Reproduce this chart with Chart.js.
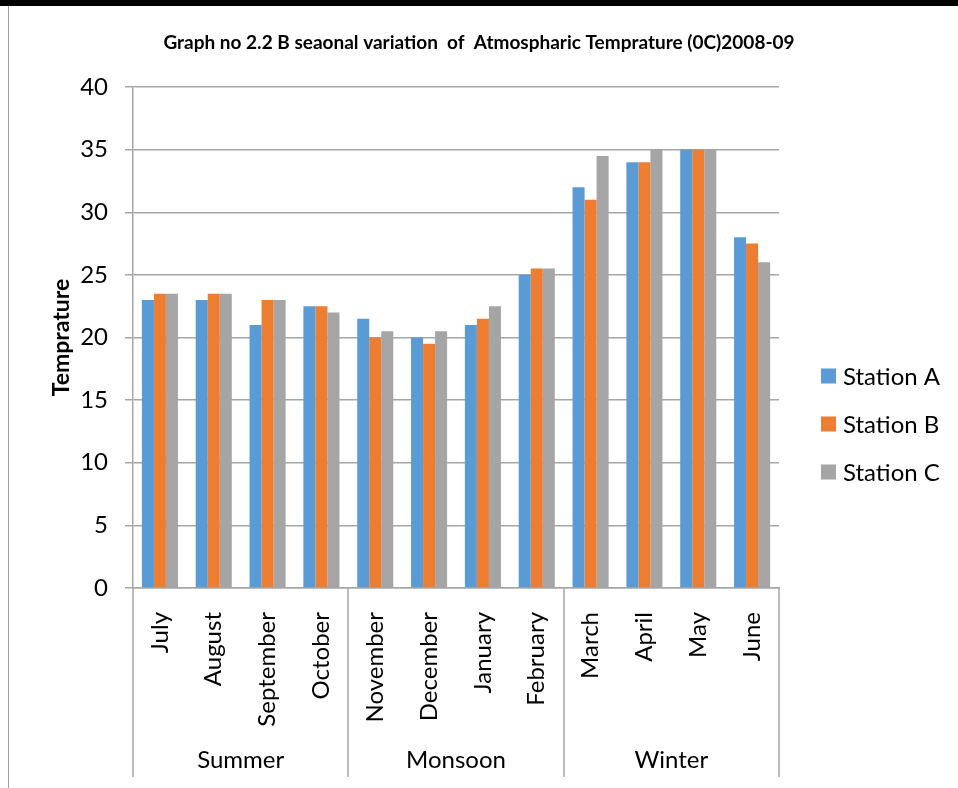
<!DOCTYPE html>
<html>
<head>
<meta charset="utf-8">
<script src="https://cdn.jsdelivr.net/npm/chart.js@4.4.1/dist/chart.umd.min.js"></script>
<style>
  html, body { margin: 0; padding: 0; background: #ffffff; }
  #wrap { width: 958px; height: 788px; position: relative; }
  canvas { display: block; }
</style>
</head>
<body>
<div id="wrap"><canvas id="chart" width="958" height="788"></canvas></div>
<script>
// ---- data ----
const months = ['July', 'August', 'September', 'October', 'November', 'December',
                'January', 'February', 'March', 'April', 'May', 'June'];
const seasons = ['Summer', 'Monsoon', 'Winter'];
const seasonSpans = [4, 4, 4];
const stationA = [23, 23, 21, 22.5, 21.5, 20, 21, 25, 32, 34, 35, 28];
const stationB = [23.5, 23.5, 23, 22.5, 20, 19.5, 21.5, 25.5, 31, 34, 35, 27.5];
const stationC = [23.5, 23.5, 23, 22, 20.5, 20.5, 22.5, 25.5, 34.5, 35, 35, 26];
const seriesNames = ['Station A', 'Station B', 'Station C'];
const seriesColors = ['#5B9BD5', '#ED7D31', '#A5A5A5'];
const yMin = 0, yMax = 40, yStep = 5;
const titleText = 'Graph no 2.2 B seaonal variation  of  Atmospharic Temprature (0C)2008-09';
const yTitle = 'Temprature';

const FONT = 'Lato, "Open Sans", sans-serif';
const GRID = '#A6A6A6';

const framePlugin = {
  id: 'frame',
  beforeDraw(chart) {
    const ctx = chart.ctx;
    ctx.save();
    ctx.fillStyle = '#ffffff';
    ctx.fillRect(0, 0, chart.width, chart.height);
    ctx.fillStyle = '#000000';
    ctx.fillRect(0, 0, chart.width, 6);
    ctx.strokeStyle = '#A0A0A0';
    ctx.lineWidth = 1;
    ctx.beginPath();
    ctx.moveTo(8.5, 6);
    ctx.lineTo(8.5, chart.height);
    ctx.stroke();
    ctx.restore();
  }
};

const groupPlugin = {
  id: 'groups',
  afterDraw(chart) {
    const x = chart.scales.x;
    const area = chart.chartArea;
    const ctx = chart.ctx;
    const half = (x.getPixelForTick(1) - x.getPixelForTick(0)) / 2;
    ctx.save();
    ctx.strokeStyle = GRID;
    ctx.lineWidth = 1.5;
    ctx.fillStyle = '#000000';
    ctx.font = '24px ' + FONT;
    ctx.textAlign = 'center';
    ctx.textBaseline = 'middle';
    let idx = 0;
    const bottom = 777;
    const edges = [];
    seasons.forEach((name, i) => {
      const start = x.getPixelForTick(idx) - half;
      const end = x.getPixelForTick(idx + seasonSpans[i] - 1) + half;
      edges.push(start, end);
      ctx.fillText(name, (start + end) / 2, 760);
      idx += seasonSpans[i];
    });
    const uniq = [...new Set(edges.map(v => Math.round(v)))];
    uniq.forEach(px => {
      ctx.beginPath();
      ctx.moveTo(px, area.bottom);
      ctx.lineTo(px, bottom);
      ctx.stroke();
    });
    ctx.restore();
  }
};

const legendPlugin = {
  id: 'customLegend',
  afterDraw(chart) {
    const ctx = chart.ctx;
    const area = chart.chartArea;
    const x0 = area.right + 42;
    const yc = 424;
    const gap = 48;
    ctx.save();
    ctx.font = '24px ' + FONT;
    ctx.textBaseline = 'middle';
    ctx.textAlign = 'left';
    chart.data.datasets.forEach((ds, i) => {
      const y = yc + (i - 1) * gap;
      ctx.fillStyle = ds.backgroundColor;
      ctx.fillRect(x0, y - 7.5, 15, 15);
      ctx.fillStyle = '#000000';
      ctx.fillText(ds.label, x0 + 22, y + 1);
    });
    ctx.restore();
  }
};

const datasets = [stationA, stationB, stationC].map((vals, i) => ({
  label: seriesNames[i],
  data: vals,
  backgroundColor: seriesColors[i],
  borderWidth: 0,
  barPercentage: 1.0,
  categoryPercentage: 0.67,
  yAxisID: 'y'
}));

new Chart(document.getElementById('chart'), {
  type: 'bar',
  data: { labels: months, datasets },
  options: {
    responsive: false,
    devicePixelRatio: 1,
    animation: false,
    layout: { padding: 0 },
    plugins: {
      legend: { display: false },
      tooltip: { enabled: false },
      title: {
        display: true,
        text: titleText,
        color: '#000000',
        font: { family: FONT, size: 19, weight: 'bold' },
        padding: { top: 31, bottom: 33.2 }
      }
    },
    scales: {
      x: {
        type: 'category',
        grid: { display: false },
        border: { display: true, color: GRID, width: 1.5 },
        ticks: {
          autoSkip: false,
          minRotation: 90,
          maxRotation: 90,
          padding: 16,
          color: '#000000',
          font: { family: FONT, size: 24 }
        },
        afterFit(scale) { scale.height = 200; }
      },
      y: {
        position: 'left',
        min: yMin,
        max: yMax,
        ticks: {
          stepSize: yStep,
          padding: 17,
          color: '#000000',
          font: { family: FONT, size: 24 }
        },
        grid: { color: GRID, lineWidth: 1.5, tickLength: 8, drawTicks: true },
        border: { display: true, color: GRID, width: 1.5 },
        title: {
          display: true,
          text: yTitle,
          color: '#000000',
          font: { family: FONT, size: 23, weight: 'bold' },
          padding: { top: 48, bottom: 0 }
        },
        afterFit(scale) { scale.width = 133; }
      },
      yRight: {
        position: 'right',
        display: true,
        grid: { display: false },
        border: { display: false },
        ticks: { display: false },
        afterFit(scale) { scale.width = 179; }
      }
    }
  },
  plugins: [framePlugin, groupPlugin, legendPlugin]
});
</script>
</body>
</html>
